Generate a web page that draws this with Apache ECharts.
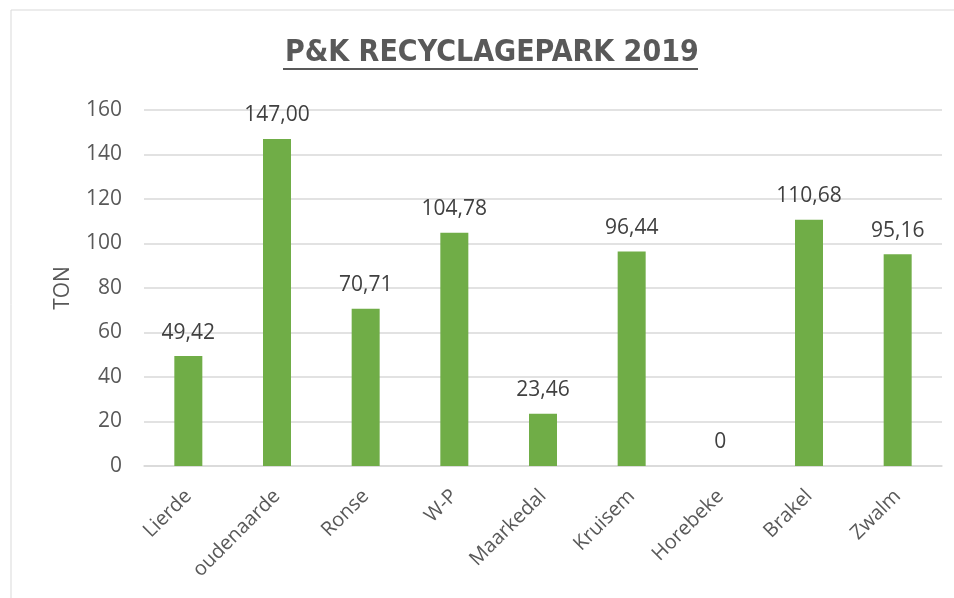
<!DOCTYPE html>
<html><head><meta charset="utf-8">
<script src="https://cdn.jsdelivr.net/npm/echarts@6/dist/echarts.min.js"></script>
<style>html,body{margin:0;padding:0;background:#fff}#c{width:954px;height:598px}</style>
</head><body><div id="c"></div>
<script>
const categories = ['Lierde','oudenaarde','Ronse','W-P','Maarkedal','Kruisem','Horebeke','Brakel','Zwalm'];
const values = [49.42,147.00,70.71,104.78,23.46,96.44,0,110.68,95.16];
const yTicks = {min:0, max:160, interval:20};
const titleText = 'P&K RECYCLAGEPARK 2019';
const yName = 'TON';

const chart = echarts.init(document.getElementById('c'), null, {renderer:'canvas'});
chart.setOption({
  animation:false,
  backgroundColor:'#fff',
  title:{text:titleText,left:285,top:38,padding:0,
    textStyle:{fontFamily:'DejaVu Sans Condensed',fontWeight:'bold',fontSize:30,color:'#595959'}},
  graphic:[
    {type:'rect',shape:{x:11,y:10,width:960,height:600},style:{fill:'none',stroke:'#d9d9d9',lineWidth:1},silent:true},
    {type:'rect',shape:{x:283,y:68,width:415,height:2},style:{fill:'#595959'},silent:true}
  ],
  grid:{left:144,right:12,top:110,bottom:132,containLabel:false},
  xAxis:{type:'category',data:categories,
    axisLine:{lineStyle:{color:'#d9d9d9',width:1.5}},axisTick:{show:false},
    axisLabel:{rotate:45,fontFamily:'Open Sans',fontSize:20,color:'#595959',margin:27,interval:0}},
  yAxis:{type:'value',min:yTicks.min,max:yTicks.max,interval:yTicks.interval,
    name:yName,nameLocation:'middle',nameGap:70,nameRotate:90,
    nameTextStyle:{fontFamily:'Open Sans',fontSize:21,color:'#595959'},
    axisLine:{show:false},axisTick:{show:false},
    axisLabel:{fontFamily:'Open Sans',fontSize:21,color:'#595959',margin:22},
    splitLine:{lineStyle:{color:'#d9d9d9',width:1.5}}},
  series:[{type:'bar',data:values,barWidth:28,
    itemStyle:{color:'#70AD47'},
    label:{show:true,position:'top',distance:13,fontFamily:'Open Sans',fontSize:21,color:'#404040',
      formatter:p=>p.value===0?'0':p.value.toFixed(2).replace('.',',')}}]
});
</script></body></html>
